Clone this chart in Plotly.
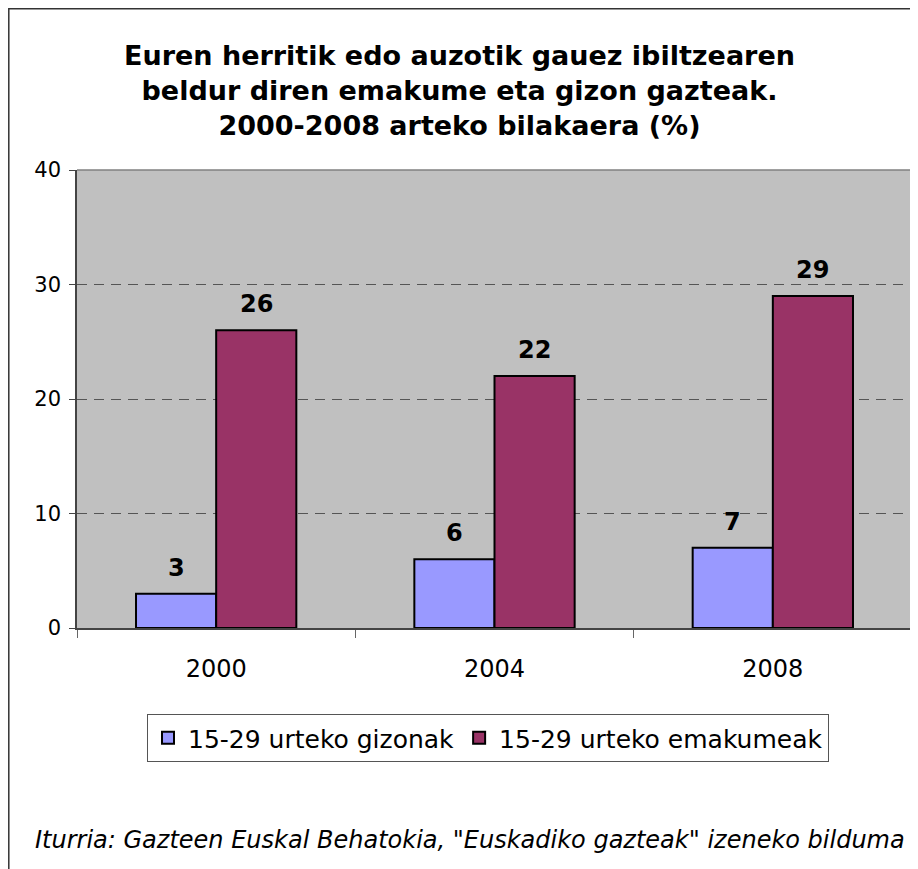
import plotly.graph_objects as go

years = ["2000", "2004", "2008"]
men = [3, 6, 7]
women = [26, 22, 29]
series_names = ["15-29 urteko gizonak", "15-29 urteko emakumeak"]
title_lines = ["Euren herritik edo auzotik gauez ibiltzearen",
               "beldur diren emakume eta gizon gazteak.",
               "2000-2008 arteko bilakaera (%)"]
source = "Iturria: Gazteen Euskal Behatokia, \"Euskadiko gazteak\" izeneko bilduma"

FONT = "DejaVu Sans"
W, H = 918, 869
L, R, T, B = 69, 14, 162, 249
pw, ph = W - L - R, H - T - B
BARGAP = 0.424
OFF = 8  # page body margin


def px(page_x):
    return (page_x - OFF - L) / pw


def py(page_y):
    return (H - B - (page_y - OFF)) / ph


colors = ["#9999FF", "#993366"]
fig = go.Figure()
for name, vals, col in zip(series_names, [men, women], colors):
    fig.add_trace(go.Bar(x=years, y=vals, name=name,
                         marker=dict(color=col, line=dict(color="black", width=2))))

bar_px = pw / len(years) * (1 - BARGAP) / 2
for vals, sign in [(men, -1), (women, 1)]:
    for i, v in enumerate(vals):
        fig.add_annotation(x=i, y=v, xref="x", yref="y", text=f"<b>{v}</b>",
                           showarrow=False, xshift=sign * bar_px / 2, yshift=26,
                           yanchor="middle",
                           font=dict(family=FONT, size=24, color="black"))

fig.update_layout(
    width=W, height=H,
    margin=dict(l=L, r=R, t=T, b=B, pad=0),
    paper_bgcolor="white", plot_bgcolor="#C0C0C0",
    barmode="group", bargap=BARGAP, bargroupgap=0,
    font=dict(family=FONT, color="black"),
    showlegend=True,
    legend=dict(orientation="h", x=px(488), xanchor="center", y=py(714), yanchor="top",
                bordercolor="#555555", borderwidth=1, bgcolor="white",
                font=dict(family=FONT, size=25), itemwidth=30, traceorder="normal"),
    xaxis=dict(type="category", range=[-0.5, len(years) - 0.5],
               showline=True, linecolor="#444444", linewidth=1.5,
               ticks="outside", tickson="boundaries", ticklen=8, tickcolor="#666666",
               tickfont=dict(family=FONT, size=24), ticklabelstandoff=18,
               showgrid=False),
    yaxis=dict(range=[0, 40], dtick=10, showline=True, linecolor="#444444", linewidth=1.5,
               ticks="outside", ticklen=6, tickcolor="#444444",
               tickfont=dict(family=FONT, size=21), ticklabelstandoff=4,
               showgrid=True, gridcolor="#555555", griddash="10px,7px", gridwidth=1,
               zeroline=False),
)

# plot-area top/right border
fig.add_shape(type="line", xref="paper", yref="paper", x0=0, x1=1, y0=1, y1=1,
              line=dict(color="#808080", width=1.5))
fig.add_shape(type="line", xref="paper", yref="paper", x0=1, x1=1, y0=0, y1=1,
              line=dict(color="#808080", width=1.5))
# outer chart border (figure edges)
fig.add_shape(type="rect", xref="paper", yref="paper",
              x0=-L / pw + 0.8 / pw, x1=(W - L) / pw, y0=-B / ph, y1=1 + (T - 0.8) / ph,
              line=dict(color="#333333", width=1.5))

fig.add_annotation(xref="paper", yref="paper", x=px(459), y=py(90),
                   text="<b>" + "<br>".join(title_lines) + "</b>", showarrow=False,
                   font=dict(family=FONT, size=27, color="black"),
                   align="center", xanchor="center", yanchor="middle")
fig.add_annotation(xref="paper", yref="paper", x=px(470), y=py(840),
                   text="<i>" + source + "</i>", showarrow=False,
                   font=dict(family=FONT, size=24, color="black"),
                   xanchor="center", yanchor="middle")

fig.write_html("out.html")
